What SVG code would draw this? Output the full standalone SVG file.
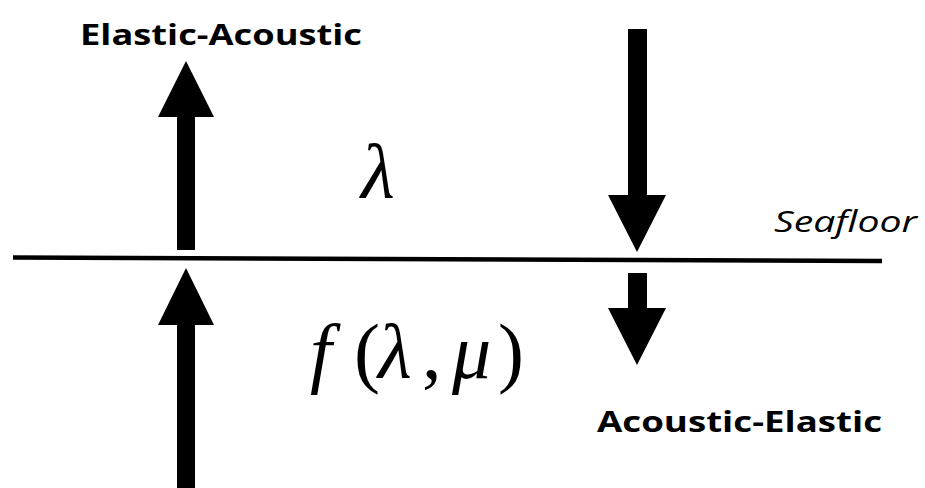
<svg xmlns="http://www.w3.org/2000/svg" width="925" height="488" viewBox="0 0 925 488">
<style>
.lbl{font-family:"Open Sans","Liberation Sans",sans-serif;font-weight:bold;font-size:29px;fill:#000}
.math{font-family:"Liberation Serif","DejaVu Serif",serif;font-size:78px;fill:#000}
.it{font-style:italic}
.arr{fill:#000}
</style>
<rect width="925" height="488" fill="#fff"/>
<g id="seafloor">
<line x1="13" y1="257.5" x2="882" y2="261" stroke="#000" stroke-width="4.5"/>
<text x="774" y="232" font-family="Open Sans,Liberation Sans,sans-serif" font-style="italic" font-size="29" textLength="143" lengthAdjust="spacingAndGlyphs">Seafloor</text>
</g>
<g id="connectors">
<polygon class="arr" points="177,250 195,250 195,117 214,117 186,61 158,117 177,117"/>
<polygon class="arr" points="177,488 195,488 195,325 214,325 186,268 158,325 177,325"/>
<polygon class="arr" points="628,29 647,29 647,195 666,195 637,252 608,195 628,195"/>
<polygon class="arr" points="628,273 647,273 647,308 666,308 637,365 608,308 628,308"/>
</g>
<g id="elastic-acoustic">
<text class="lbl" x="80" y="45" textLength="282" lengthAdjust="spacingAndGlyphs">Elastic-Acoustic</text>
</g>
<g id="acoustic-elastic">
<text class="lbl" x="597" y="432" textLength="285" lengthAdjust="spacingAndGlyphs">Acoustic-Elastic</text>
</g>
<g id="lambda">
<text class="math it" x="361" y="198" font-size="74">λ</text>
</g>
<g id="f-lambda-mu">
<text class="math" y="378"><tspan class="it" x="310">f</tspan><tspan x="354">(</tspan><tspan class="it" x="378">λ</tspan><tspan x="422">,</tspan><tspan class="it" x="452">μ</tspan><tspan x="498">)</tspan></text>
</g>
</svg>
